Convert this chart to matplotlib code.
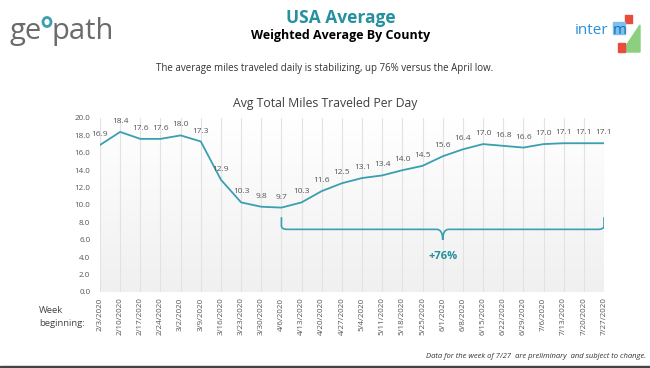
import matplotlib
matplotlib.use("Agg")
import matplotlib.pyplot as plt
import numpy as np
from matplotlib.path import Path
from matplotlib.patches import PathPatch, Rectangle, Polygon

weeks = ["2/3/2020", "2/10/2020", "2/17/2020", "2/24/2020", "3/2/2020", "3/9/2020",
         "3/16/2020", "3/23/2020", "3/30/2020", "4/6/2020", "4/13/2020", "4/20/2020",
         "4/27/2020", "5/4/2020", "5/11/2020", "5/18/2020", "5/25/2020", "6/1/2020",
         "6/8/2020", "6/15/2020", "6/22/2020", "6/29/2020", "7/6/2020", "7/13/2020",
         "7/20/2020", "7/27/2020"]
miles = [16.9, 18.4, 17.6, 17.6, 18.0, 17.3, 12.9, 10.3, 9.8, 9.7, 10.3, 11.6, 12.5,
         13.1, 13.4, 14.0, 14.5, 15.6, 16.4, 17.0, 16.8, 16.6, 17.0, 17.1, 17.1, 17.1]
yticks = [0, 2, 4, 6, 8, 10, 12, 14, 16, 18, 20]

plt.rcParams['font.family'] = ['Open Sans', 'DejaVu Sans']
TEAL = '#3a9fb0'
TEAL_DARK = '#25909e'
W, H = 650, 368
fig = plt.figure(figsize=(6.5, 3.68), dpi=100)

def fx(px):
    return px / W

def fy(py):
    return 1 - py / H

ax = fig.add_axes([fx(100), fy(292), fx(604) - fx(100), fy(118) - fy(292)])
x = np.arange(len(miles))
ax.set_xlim(0, len(miles) - 1)
ax.set_ylim(0, 20)

# background gradient (darker at bottom)
grad = np.linspace(0, 1, 100).reshape(-1, 1)
ax.imshow(grad, extent=[0, len(miles) - 1, 0, 20], aspect='auto', origin='lower',
          cmap=matplotlib.colors.LinearSegmentedColormap.from_list('g', ['#f0f0f0', '#ffffff']),
          zorder=0)
for xi in x:
    ax.axvline(xi, color='#e2e2e2', lw=0.8, zorder=1)

ax.plot(x, miles, color=TEAL, lw=1.3, zorder=3)
for xi, v in zip(x, miles):
    ax.annotate(f"{v:.1f}", (xi, v), xytext=(0, 5), textcoords='offset points',
                ha='center', va='bottom', fontsize=6, color='#555555', zorder=4)

for s in ax.spines.values():
    s.set_visible(False)
ax.set_yticks(yticks)
ax.set_yticklabels([f"{t:.1f}" for t in yticks], fontsize=5.8, color='#555555')
ax.set_xticks(x)
ax.set_xticklabels(weeks, rotation=90, fontsize=5.8, color='#555555')
ax.tick_params(axis='y', length=0, pad=7)
ax.tick_params(axis='x', length=0, pad=4)

# brace
i0 = int(np.argmin(miles))
i1 = len(miles) - 1
im = 17
yb, ytop, ytip = 7.2, 8.6, 6.0
verts = [(i0, ytop), (i0, yb + 0.4), (i0, yb), (i0 + 0.3, yb),
         (im - 0.3, yb), (im, yb), (im, ytip),
         (im, yb), (im + 0.3, yb),
         (i1 - 0.3, yb), (i1, yb), (i1, yb + 0.4), (i1, ytop)]
codes = [Path.MOVETO, Path.LINETO, Path.CURVE3, Path.CURVE3,
         Path.LINETO, Path.CURVE3, Path.CURVE3,
         Path.CURVE3, Path.CURVE3,
         Path.LINETO, Path.CURVE3, Path.CURVE3, Path.LINETO]
ax.add_patch(PathPatch(Path(verts, codes), facecolor='none', edgecolor=TEAL, lw=1.2, zorder=3))
ax.text(im, 4.1, "+76%", ha='center', va='center', fontsize=8, fontweight='bold', color=TEAL_DARK, zorder=4)

# titles
fig.text(fx(341), fy(18), "USA Average", ha='center', va='center', fontsize=12.5,
         fontweight='bold', color=TEAL_DARK)
fig.text(fx(341), fy(36), "Weighted Average By County", ha='center', va='center', fontsize=9,
         fontweight='bold', color='black')
fig.text(fx(325), fy(69), "The average miles traveled daily is stabilizing, up 76% versus the April low.",
         ha='center', va='center', fontsize=7, color='#333333')
fig.text(fx(325), fy(104), "Avg Total Miles Traveled Per Day", ha='center', va='center', fontsize=8.8,
         color='#404040')
fig.text(fx(39), fy(317), "Week\nbeginning:", ha='left', va='center', fontsize=6.8,
         color='#444444', linespacing=1.45)
fig.text(fx(646), fy(356), "Data for the week of 7/27  are preliminary  and subject to change.",
         ha='right', va='center', fontsize=5.5, style='italic', color='#333333')

# bottom bar
fig.add_artist(Rectangle((0, 0), 1, fy(365.5), transform=fig.transFigure, color='#444444'))

# geopath logo
fig.text(fx(10), fy(31), "ge", ha='left', va='center', fontsize=21, color='#6b6b6b')
fig.text(fx(52), fy(31), "path", ha='left', va='center', fontsize=21, color='#6b6b6b')
fig.add_artist(matplotlib.patches.Ellipse((fx(47), fy(22)), fx(8), 1 - fy(9), transform=fig.transFigure,
                                          facecolor='none', edgecolor=TEAL, lw=2))

# intermx logo
fig.add_artist(Rectangle((fx(625), fy(23)), fx(7), 1 - fy(8), transform=fig.transFigure, color='#e74c3c', zorder=1))
fig.add_artist(Polygon([(fx(622), fy(52)), (fx(640), fy(25)), (fx(640), fy(52))], closed=True,
                       transform=fig.transFigure, color='#8ccf7e', zorder=1))
fig.add_artist(Rectangle((fx(613), fy(34)), fx(12), 1 - fy(12), transform=fig.transFigure,
                         color='#7cc0ee', zorder=2))
fig.add_artist(Rectangle((fx(618), fy(52)), fx(7), 1 - fy(9), transform=fig.transFigure, color='#e74c3c', zorder=1))
fig.text(fx(575), fy(30), "inter", ha='left', va='center', fontsize=11, color='#2a8fd6', zorder=5)
fig.text(fx(612.5), fy(30), "m", ha='left', va='center', fontsize=11, color='#1a6fb8', zorder=5)

fig.savefig("out.png", dpi=100)
